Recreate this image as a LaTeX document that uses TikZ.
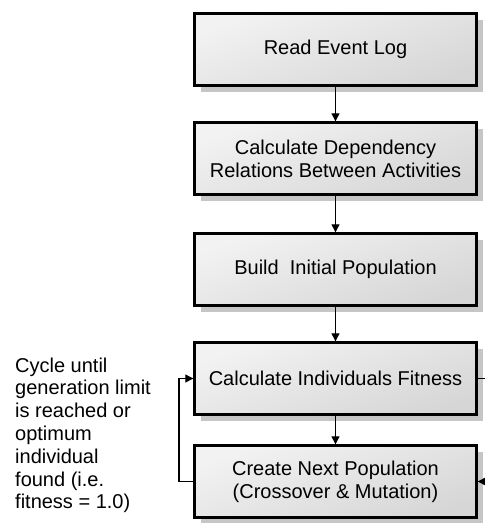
\documentclass[tikz,border=0pt]{standalone}
\usepackage{fontspec}
\setmainfont{Liberation Sans}
\usetikzlibrary{arrows.meta,shadows}
\begin{document}
\begin{tikzpicture}[x=1pt,y=-1pt,
  stepbox/.style={draw=black, line width=2.4pt, minimum width=282pt, minimum height=72pt,
    inner sep=0pt, align=center, font=\fontsize{20}{23}\selectfont,
    shading=axis, top color=gray!10, bottom color=gray!32, shading angle=20,
    drop shadow={shadow xshift=6pt, shadow yshift=-6pt, opacity=1, fill=gray!45, draw=none}},
  conn/.style={line width=1.2pt, -{Triangle[length=8pt,width=8pt]}},
  note/.style={align=left, anchor=north west, inner sep=0pt, font=\fontsize{20}{22.8}\selectfont}]
\useasboundingbox (0,0) rectangle (485,523);
\clip (0,0) rectangle (485,523);
\node[stepbox] (b1) at (335.5,49.5) {Read Event Log};
\node[stepbox] (b2) at (335.5,158.5) {Calculate Dependency\\Relations Between Activities};
\node[stepbox] (b3) at (335.5,269.5) {Build\ \ Initial Population};
\node[stepbox] (b4) at (335.5,378.5) {Calculate Individuals Fitness};
\node[stepbox] (b5) at (335.5,481.5) {Create Next Population\\(Crossover \& Mutation)};
\draw[conn] (b1) -- (b2);
\draw[conn] (b2) -- (b3);
\draw[conn] (b3) -- (b4);
\draw[conn] (b4) -- (b5);
\coordinate (lft) at (179,430);
\coordinate (rgt) at (493,430);
\draw[conn] (b5.west) -| (lft) |- (b4.west);
\draw[conn] (b4.east) -| (rgt) |- (b5.east);
\node[note] (txt) at (15,357.5) {Cycle until\\generation limit\\is reached or\\optimum\\individual\\found (i.e.\\fitness = 1.0)};
\end{tikzpicture}
\end{document}
